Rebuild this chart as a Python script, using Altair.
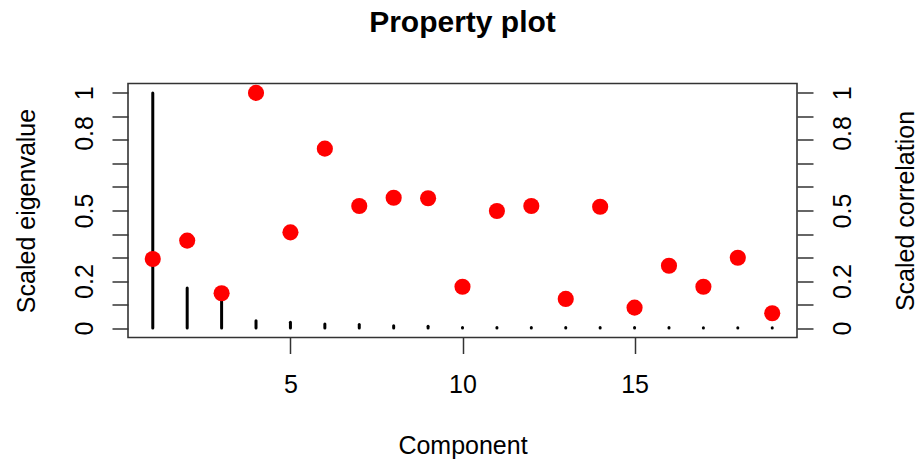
import json

import altair as alt
import pandas as pd

# Component index and the two scaled quantities shown per component
components = list(range(1, 20))
eigenvalues = [1.0, 0.17, 0.15, 0.031, 0.025, 0.017, 0.015, 0.01, 0.008, 0.003,
               0.003, 0.002, 0.002, 0.002, 0.002, 0.002, 0.001, 0.001, 0.001]
correlations = [0.294, 0.372, 0.148, 1.0, 0.407, 0.763, 0.519, 0.554, 0.552, 0.176,
                0.498, 0.519, 0.124, 0.516, 0.087, 0.265, 0.176, 0.299, 0.063]

# Axis ticks and which of them carry a label
y_ticks = [0, 0.1, 0.2, 0.3, 0.4, 0.5, 0.6, 0.7, 0.8, 0.9, 1.0]
y_labels = [0, 0.2, 0.5, 0.8, 1]
x_ticks = [5, 10, 15]

df = pd.DataFrame({
    "component": components,
    "eigenvalue": eigenvalues,
    "correlation": correlations,
})

FONT = "Liberation Sans"
W, H = 669, 254

x_scale = alt.Scale(domain=[0.28, 19.72], nice=False, zero=False)
y_scale = alt.Scale(domain=[-0.04, 1.04], nice=False, zero=False)

label_expr = (
    f"indexof({json.dumps(y_labels)}, datum.value) >= 0 "
    "? format(datum.value, '~g') : ''"
)


def y_axis(orient, title, title_x, pad):
    return alt.Axis(
        orient=orient,
        values=y_ticks,
        labelExpr=label_expr,
        domain=False,
        grid=False,
        tickSize=16,
        tickWidth=1.5,
        tickColor="#333333",
        labelAngle=270,
        labelAlign="center",
        labelBaseline="middle",
        labelPadding=pad,
        labelFont=FONT,
        labelFontSize=25,
        labelColor="black",
        labelOverlap=False,
        labelFlush=False,
        labelOffset={"condition": {"test": "datum.value == 0.8", "value": -7}, "value": 0},
        title=title,
        titleFont=FONT,
        titleFontSize=25,
        titleFontWeight="normal",
        titleColor="black",
        titleAngle=270,
        titleAlign="center",
        titleBaseline="middle",
        titleX=title_x,
        titleY=H / 2,
    )


x_axis = alt.Axis(
    values=x_ticks,
    format="d",
    domain=False,
    grid=False,
    tickSize=16,
    tickWidth=1.5,
    tickColor="#333333",
    labelBaseline="middle",
    labelPadding=31,
    labelFont=FONT,
    labelFontSize=25,
    labelColor="black",
    labelFlush=False,
    title="Component",
    titleFont=FONT,
    titleFontSize=25,
    titleFontWeight="normal",
    titleColor="black",
    titleAlign="center",
    titleBaseline="middle",
    titleX=W / 2,
    titleY=108,
)

# Eigenvalues as vertical spikes from zero
spikes = alt.Chart(df).mark_rule(
    color="black", strokeWidth=3, strokeCap="round"
).encode(
    x=alt.X("component:Q", scale=x_scale, axis=x_axis),
    y=alt.Y("eigenvalue:Q", scale=y_scale,
            axis=y_axis("left", "Scaled eigenvalue", -102, 28)),
    y2=alt.datum(0),
)

# Correlations as filled red dots on the right-hand scale
dots = alt.Chart(df).mark_circle(
    color="#FF0000", size=260, opacity=1
).encode(
    x=alt.X("component:Q", scale=x_scale, axis=x_axis),
    y=alt.Y("correlation:Q", scale=y_scale,
            axis=y_axis("right", "Scaled correlation", 108, 29)),
)

chart = alt.layer(spikes, dots).resolve_scale(
    y="independent"
).properties(
    width=W,
    height=H,
    title=alt.TitleParams(
        text="Property plot",
        font=FONT,
        fontSize=30,
        fontWeight="bold",
        color="black",
        anchor="middle",
        baseline="alphabetic",
        offset=22,
    ),
    autosize=alt.AutoSizeParams(type="none"),
    padding={"left": 128, "top": 83.5, "right": 122, "bottom": 125.5},
).configure_view(
    stroke="#333333", strokeWidth=1.6
)

chart.save("out.html", embed_options={"renderer": "svg", "actions": False})
